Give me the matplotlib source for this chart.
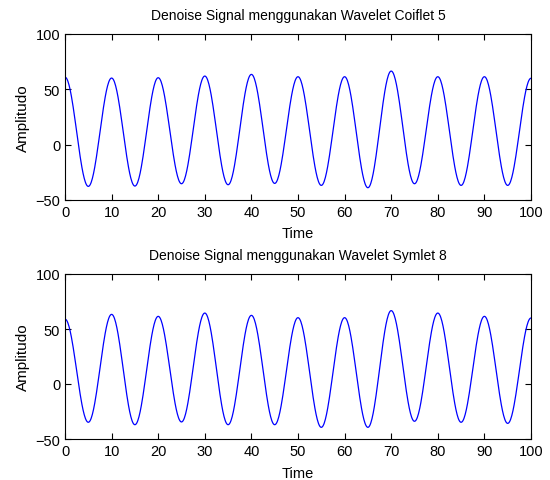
import numpy as np
import matplotlib
matplotlib.use("Agg")
import matplotlib.pyplot as plt

plt.rcParams['font.family'] = ['Liberation Sans', 'DejaVu Sans']

# Extrema (time, amplitude)
ext_time = [0, 5, 10, 15, 20, 25, 30, 35, 40, 45, 50, 55, 60, 65, 70, 75, 80, 85, 90, 95, 100]
coif_vals = [61, -37.7, 60.2, -37.4, 60.5, -35.3, 62, -36.2, 63.5, -35, 61.4, -36.8,
             61.4, -38.9, 66.5, -35.3, 61.4, -36.8, 61.4, -36.8, 60]
sym_vals = [59, -34.8, 63.3, -37, 61.5, -34.5, 64.5, -37, 62.4, -37, 60.3, -39.4,
            60.3, -39.4, 66.7, -33.9, 64.5, -34.8, 61.5, -35.8, 60]

titles = ["Denoise Signal menggunakan Wavelet Coiflet 5",
          "Denoise Signal menggunakan Wavelet Symlet 8"]
xlabel = "Time"
ylabel = "Amplitudo"
xticks = [0, 10, 20, 30, 40, 50, 60, 70, 80, 90, 100]
yticks = [-50, 0, 50, 100]


def smooth_through(tx, vals, n=40):
    xs, ys = [], []
    for i in range(len(tx) - 1):
        s = np.linspace(0, 1, n, endpoint=False)
        w = (1 - np.cos(np.pi * s)) / 2
        xs.append(tx[i] + (tx[i + 1] - tx[i]) * s)
        ys.append(vals[i] + (vals[i + 1] - vals[i]) * w)
    xs.append([tx[-1]])
    ys.append([vals[-1]])
    return np.concatenate(xs), np.concatenate(ys)


fig = plt.figure(figsize=(5.5, 4.81), dpi=100)
W, H = 550, 481
boxes = [(65, 35, 531, 201), (65, 275, 531, 440)]
for (l, t, r, b), title, vals in zip(boxes, titles, [coif_vals, sym_vals]):
    ax = fig.add_axes([l / W, 1 - b / H, (r - l) / W, (b - t) / H])
    x, y = smooth_through(ext_time, vals)
    ax.plot(x, y, color=(0, 0, 1), lw=0.9)
    ax.set_xlim(0, 100)
    ax.set_ylim(-50, 100)
    ax.set_xticks(xticks)
    ax.set_yticks(yticks)
    ax.tick_params(direction='in', top=True, right=True, length=4, width=0.8,
                   labelsize=10.5, pad=3.5)
    for sp in ax.spines.values():
        sp.set_linewidth(0.8)
    ax.set_title(title, fontsize=10, pad=11)
    ax.set_xlabel(xlabel, fontsize=10.5, labelpad=5.5)
    ax.set_ylabel(ylabel, fontsize=11, labelpad=4)

fig.savefig("out.png", dpi=100)
